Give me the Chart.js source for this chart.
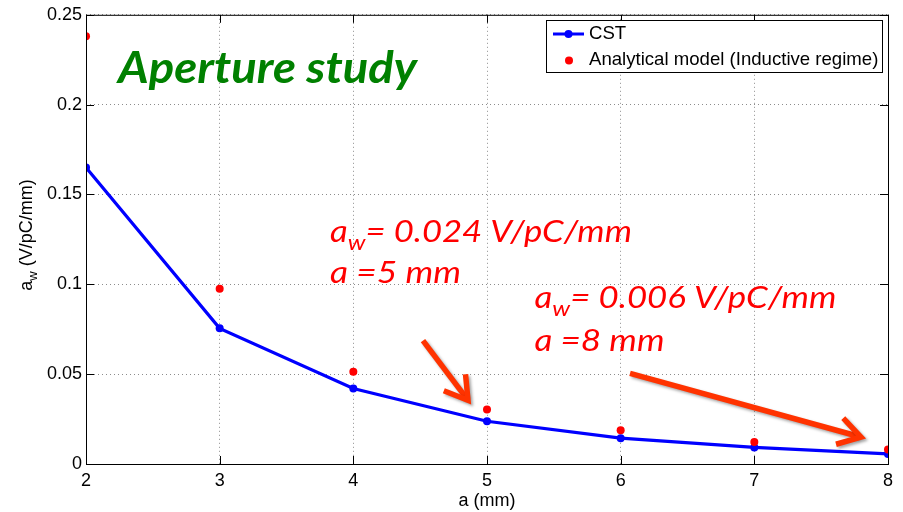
<!DOCTYPE html>
<html>
<head>
<meta charset="utf-8">
<script src="https://cdn.jsdelivr.net/npm/chart.js@4.4.0/dist/chart.umd.min.js"></script>
<style>
  html, body { margin: 0; padding: 0; background: #fff; }
  #wrap { width: 903px; height: 512px; }
</style>
</head>
<body>
<div id="wrap"><canvas id="miGrafico"></canvas></div>
<script>
// data
var aperture = [2, 3, 4, 5, 6, 7, 8];
var cst = [0.165, 0.0755, 0.042, 0.0238, 0.0144, 0.0092, 0.0056];
var analytical = [0.238, 0.0976, 0.0513, 0.0304, 0.0188, 0.0122, 0.0081];
var yTickLabels = ['0', '0.05', '0.1', '0.15', '0.2', '0.25'];
var xTickLabels = ['2', '3', '4', '5', '6', '7', '8'];

var AXIS_FONT = '18px "Liberation Sans", Arial, sans-serif';

function pts(xs, ys) {
    var out = [];
    for (var i = 0; i < xs.length; i++) out.push({ x: xs[i], y: ys[i] });
    return out;
}

function arrow(ctx, x1, y1, x2, y2) {
    var ang = Math.atan2(y2 - y1, x2 - x1);
    var len = 26, spread = 0.55;
    ctx.save();
    ctx.strokeStyle = '#ff3300';
    ctx.lineWidth = 5.5;
    ctx.lineCap = 'butt';
    ctx.lineJoin = 'miter';
    ctx.shadowColor = 'rgba(0,0,0,0.35)';
    ctx.shadowBlur = 3;
    ctx.shadowOffsetX = 2;
    ctx.shadowOffsetY = 2;
    ctx.beginPath();
    ctx.moveTo(x1, y1);
    ctx.lineTo(x2 - 3 * Math.cos(ang), y2 - 3 * Math.sin(ang));
    ctx.stroke();
    ctx.beginPath();
    ctx.moveTo(x2 - len * Math.cos(ang - spread), y2 - len * Math.sin(ang - spread));
    ctx.lineTo(x2, y2);
    ctx.lineTo(x2 - len * Math.cos(ang + spread), y2 - len * Math.sin(ang + spread));
    ctx.stroke();
    ctx.restore();
}

// text pieces [string, isSub]; stretched horizontally to the given width
function noteText(ctx, x, y, parts, size, style, family, width) {
    var big = style + ' ' + size + 'px ' + family;
    var small = style + ' ' + Math.round(size * 0.7) + 'px ' + family;
    var total = 0, i;
    for (i = 0; i < parts.length; i++) {
        ctx.font = parts[i][1] ? small : big;
        total += ctx.measureText(parts[i][0]).width;
    }
    ctx.save();
    ctx.translate(x, y);
    ctx.scale(width / total, 1);
    var cx = 0;
    for (i = 0; i < parts.length; i++) {
        ctx.font = parts[i][1] ? small : big;
        ctx.fillText(parts[i][0], cx, parts[i][1] ? size * 0.25 : 0);
        cx += ctx.measureText(parts[i][0]).width;
    }
    ctx.restore();
}

/*=============================================
=            frame, legend and notes            =
=============================================*/
var decoraciones = {
    id: 'decoraciones',
    afterDatasetsDraw: function(chart) {
        var ctx = chart.ctx;
        var a = chart.chartArea;
        var xs = chart.scales.x, ys = chart.scales.y;
        var i, px, py;

        // box and inward ticks
        ctx.save();
        ctx.strokeStyle = '#000';
        ctx.lineWidth = 1;
        ctx.strokeRect(a.left + 0.5, a.top + 0.5, a.right - a.left, a.bottom - a.top);
        ctx.beginPath();
        for (i = 0; i < aperture.length; i++) {
            px = Math.round(xs.getPixelForValue(aperture[i])) + 0.5;
            ctx.moveTo(px, a.bottom); ctx.lineTo(px, a.bottom - 8);
            ctx.moveTo(px, a.top); ctx.lineTo(px, a.top + 8);
        }
        for (i = 0; i < yTickLabels.length; i++) {
            py = Math.round(ys.getPixelForValue(parseFloat(yTickLabels[i]))) + 0.5;
            ctx.moveTo(a.left, py); ctx.lineTo(a.left + 8, py);
            ctx.moveTo(a.right, py); ctx.lineTo(a.right - 8, py);
        }
        ctx.stroke();
        ctx.restore();

        // axis titles
        ctx.save();
        ctx.fillStyle = '#000';
        ctx.font = AXIS_FONT;
        ctx.textAlign = 'center';
        ctx.textBaseline = 'middle';
        ctx.fillText('a (mm)', (a.left + a.right) / 2, 501);
        ctx.translate(26, 235);
        ctx.rotate(-Math.PI / 2);
        ctx.textAlign = 'left';
        ctx.textBaseline = 'alphabetic';
        var t1 = 'a', t2 = 'w', t3 = ' (V/pC/mm)';
        ctx.font = AXIS_FONT;
        var w1 = ctx.measureText(t1).width;
        var w3 = ctx.measureText(t3).width;
        ctx.font = '13px "Liberation Sans", Arial, sans-serif';
        var w2 = ctx.measureText(t2).width;
        var x0 = -(w1 + w2 + w3) / 2;
        ctx.font = AXIS_FONT;
        ctx.fillText(t1, x0, 6);
        ctx.font = '13px "Liberation Sans", Arial, sans-serif';
        ctx.fillText(t2, x0 + w1, 11);
        ctx.font = AXIS_FONT;
        ctx.fillText(t3, x0 + w1 + w2, 6);
        ctx.restore();

        // legend
        ctx.save();
        ctx.fillStyle = '#fff';
        ctx.fillRect(546, 20, 336, 52);
        ctx.strokeStyle = '#000';
        ctx.lineWidth = 1;
        ctx.strokeRect(546.5, 20.5, 336, 52);
        ctx.strokeStyle = '#0000ff';
        ctx.lineWidth = 3;
        ctx.beginPath();
        ctx.moveTo(553, 34); ctx.lineTo(584, 34);
        ctx.stroke();
        ctx.fillStyle = '#0000ff';
        ctx.beginPath(); ctx.arc(568.5, 34, 4, 0, Math.PI * 2); ctx.fill();
        ctx.fillStyle = '#ff0000';
        ctx.beginPath(); ctx.arc(569, 60.5, 4, 0, Math.PI * 2); ctx.fill();
        ctx.fillStyle = '#000';
        ctx.font = '18.6px "Liberation Sans", Arial, sans-serif';
        ctx.textBaseline = 'middle';
        ctx.fillText('CST', 589, 34);
        ctx.fillText('Analytical model (Inductive regime)', 589, 60);
        ctx.restore();

        // notes
        ctx.save();
        ctx.textBaseline = 'alphabetic';
        ctx.fillStyle = '#008000';
        noteText(ctx, xs.getPixelForValue(2.24), ys.getPixelForValue(0.212),
                 [['Aperture study', false]], 43, 'italic bold', 'Lato, sans-serif', 299);

        var redFam = 'Lato, sans-serif';
        ctx.fillStyle = '#ff0000';
        noteText(ctx, xs.getPixelForValue(3.825), ys.getPixelForValue(0.1236),
                 [['a', false], ['w', true], ['= 0.024 V/pC/mm', false]], 31, 'italic', redFam, 302);
        noteText(ctx, xs.getPixelForValue(3.825), ys.getPixelForValue(0.1007),
                 [['a =5 mm', false]], 31, 'italic', redFam, 131);
        noteText(ctx, xs.getPixelForValue(5.355), ys.getPixelForValue(0.0868),
                 [['a', false], ['w', true], ['= 0.006 V/pC/mm', false]], 31, 'italic', redFam, 302);
        noteText(ctx, xs.getPixelForValue(5.355), ys.getPixelForValue(0.0629),
                 [['a =8 mm', false]], 31, 'italic', redFam, 130);
        ctx.restore();

        arrow(ctx, xs.getPixelForValue(4.521), ys.getPixelForValue(0.0687),
                   xs.getPixelForValue(4.858), ys.getPixelForValue(0.0355));
        arrow(ctx, xs.getPixelForValue(6.07), ys.getPixelForValue(0.0504),
                   xs.getPixelForValue(7.798), ys.getPixelForValue(0.015));
    }
};
/*=====  End of frame, legend and notes  ======*/

var mostrar = document.getElementById('miGrafico');

var grafico = new Chart(mostrar, {
    type: 'scatter',
    data: {
        datasets: [
            {
                label: 'CST',
                data: pts(aperture, cst),
                showLine: true,
                borderColor: '#0000ff',
                backgroundColor: '#0000ff',
                borderWidth: 3.2,
                pointRadius: 4,
                pointBorderWidth: 0,
                fill: false,
                order: 2
            },
            {
                label: 'Analytical model (Inductive regime)',
                data: pts(aperture, analytical),
                showLine: false,
                borderColor: '#ff0000',
                backgroundColor: '#ff0000',
                pointRadius: 4,
                pointBorderWidth: 0,
                order: 1
            }
        ]
    },
    options: {
        responsive: true,
        maintainAspectRatio: false,
        animation: false,
        events: [],
        layout: { padding: { top: 13, right: 15, left: 0, bottom: 0 } },
        plugins: {
            legend: { display: false },
            tooltip: { enabled: false }
        },
        scales: {
            x: {
                type: 'linear',
                min: 2,
                max: 8,
                afterFit: function(s) { s.height = 48; },
                ticks: {
                    stepSize: 1,
                    padding: 6,
                    color: '#000',
                    font: { family: '"Liberation Sans", Arial, sans-serif', size: 18 },
                    callback: function(v) { return xTickLabels[aperture.indexOf(v)]; }
                },
                grid: { color: 'rgba(0,0,0,0.45)', drawTicks: false, lineWidth: 1 },
                border: { display: false, dash: [1, 3] }
            },
            y: {
                type: 'linear',
                min: 0,
                max: 0.25,
                afterFit: function(s) { s.width = 86; },
                ticks: {
                    stepSize: 0.05,
                    padding: 4,
                    color: '#000',
                    font: { family: '"Liberation Sans", Arial, sans-serif', size: 18 },
                    callback: function(v, i) { return yTickLabels[i]; }
                },
                grid: { color: 'rgba(0,0,0,0.45)', drawTicks: false, lineWidth: 1 },
                border: { display: false, dash: [1, 3] }
            }
        }
    },
    plugins: [decoraciones]
});
</script>
</body>
</html>
